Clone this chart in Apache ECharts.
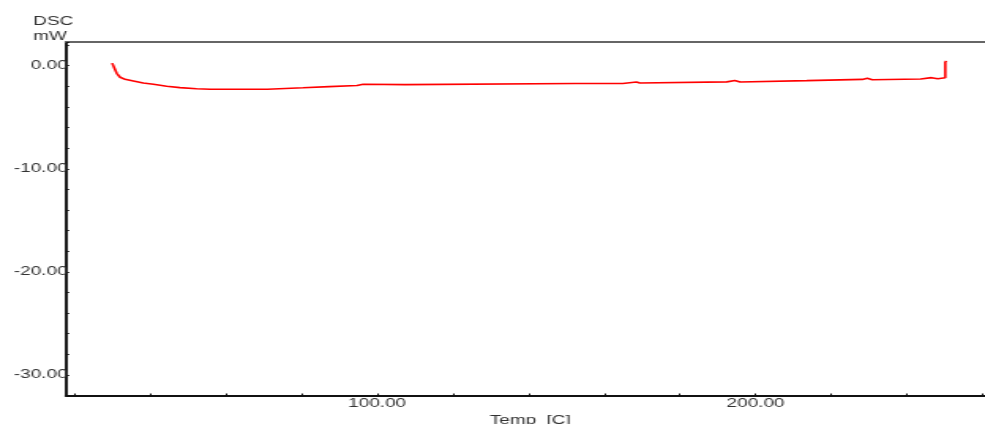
<!DOCTYPE html>
<html>
<head>
<meta charset="utf-8">
<title>DSC</title>
<script src="https://cdn.jsdelivr.net/npm/echarts@6/dist/echarts.min.js"></script>
<style>
  html, body { margin: 0; padding: 0; background: #fff; overflow: hidden; }
  /* The chart is laid out narrow and widened horizontally, like the instrument export */
  #chart { width: 624px; height: 424px; transform: scaleX(1.5785); transform-origin: 0 0; }
</style>
</head>
<body>
<div id="chart"></div>
<script>
// DSC trace: temperature [C] and heat flow [mW]
const temperature = [
  30.0, 30.6, 31.2, 32.1, 33.4, 35.6, 38.2, 40.9, 44.4, 47.9, 52.3, 55.9,
  71.0, 71.0, 80.4, 80.4, 87.3, 87.3, 94.7, 94.7, 96.3, 96.3, 107.4, 107.4,
  152.3, 152.5, 153.0, 164.9, 164.9, 168.5, 168.6, 169.4, 169.4,
  192.4, 192.4, 194.5, 194.5, 195.9, 195.9, 213.5, 213.5,
  228.2, 228.2, 229.5, 229.5, 230.8, 230.8, 243.6, 243.6,
  246.5, 246.5, 248.1, 248.1, 250.1, 250.1, 250.4
];
const dscValue = [
  0.25, -0.25, -0.74, -1.12, -1.32, -1.48, -1.68, -1.80, -2.00, -2.13, -2.23, -2.28,
  -2.28, -2.14, -2.14, -2.03, -2.03, -1.92, -1.92, -1.80, -1.80, -1.84, -1.84, -1.72,
  -1.72, -1.66, -1.72, -1.72, -1.58, -1.58, -1.68, -1.68, -1.57,
  -1.57, -1.43, -1.43, -1.58, -1.58, -1.45, -1.45, -1.33,
  -1.33, -1.22, -1.22, -1.36, -1.36, -1.29, -1.29, -1.16,
  -1.16, -1.26, -1.26, -1.16, -1.16, 0.35, 0.46
];

// Axis tick positions and labelled values
const xTicks = [20, 40, 60, 80, 100, 120, 140, 160, 180, 200, 220, 240, 260];
const xTickLabels = [100, 200];
const yTickLabels = [0, -10, -20, -30];

const font = "'Liberation Sans', Arial, sans-serif";
const textColor = '#333';

const chart = echarts.init(document.getElementById('chart'), null, { renderer: 'canvas' });

chart.setOption({
  animation: false,
  backgroundColor: '#fff',
  grid: { left: 41.8, right: 0, top: 42, bottom: 28.5, containLabel: false, outerBoundsMode: 'none' },
  graphic: [{
    type: 'text',
    left: 21,
    top: 14,
    style: {
      text: 'DSC\nmW',
      font: '12px ' + font,
      lineHeight: 15,
      fill: textColor
    }
  }],
  xAxis: [{
    type: 'value',
    position: 'bottom',
    min: 17.8,
    max: 260.6,
    name: 'Temp  [C]',
    nameLocation: 'middle',
    nameGap: 16.5,
    nameTextStyle: { fontFamily: font, fontSize: 12, color: textColor, padding: [0, 0, 0, 6] },
    axisLine: { show: true, onZero: false, lineStyle: { color: '#111', width: 2 } },
    axisTick: { show: true, inside: true, length: 2, customValues: xTicks, lineStyle: { color: '#111', width: 1 } },
    axisLabel: {
      show: true, margin: 2, customValues: xTickLabels,
      fontFamily: font, fontSize: 12, color: textColor,
      formatter: v => v.toFixed(2)
    },
    splitLine: { show: false }
  }, {
    type: 'value',
    position: 'top',
    min: 17.8,
    max: 260.6,
    axisLine: { show: true, onZero: false, lineStyle: { color: '#666', width: 2 } },
    axisTick: { show: false },
    axisLabel: { show: false },
    splitLine: { show: false }
  }],
  yAxis: {
    type: 'value',
    min: -32,
    max: 2.3,
    interval: 2,
    axisLine: { show: true, onZero: false, lineStyle: { color: '#1a1a1a', width: 2 } },
    axisTick: { show: true, inside: true, length: 2, lineStyle: { color: '#111', width: 1 } },
    axisLabel: {
      show: true, margin: -1, customValues: yTickLabels,
      fontFamily: font, fontSize: 12, color: textColor,
      formatter: v => v.toFixed(2)
    },
    splitLine: { show: false }
  },
  series: [{
    type: 'line',
    xAxisIndex: 0,
    data: temperature.map((t, i) => [t, dscValue[i]]),
    showSymbol: false,
    symbol: 'none',
    lineStyle: { color: '#ff0000', width: 1.6 },
    silent: true
  }]
});
</script>
</body>
</html>
